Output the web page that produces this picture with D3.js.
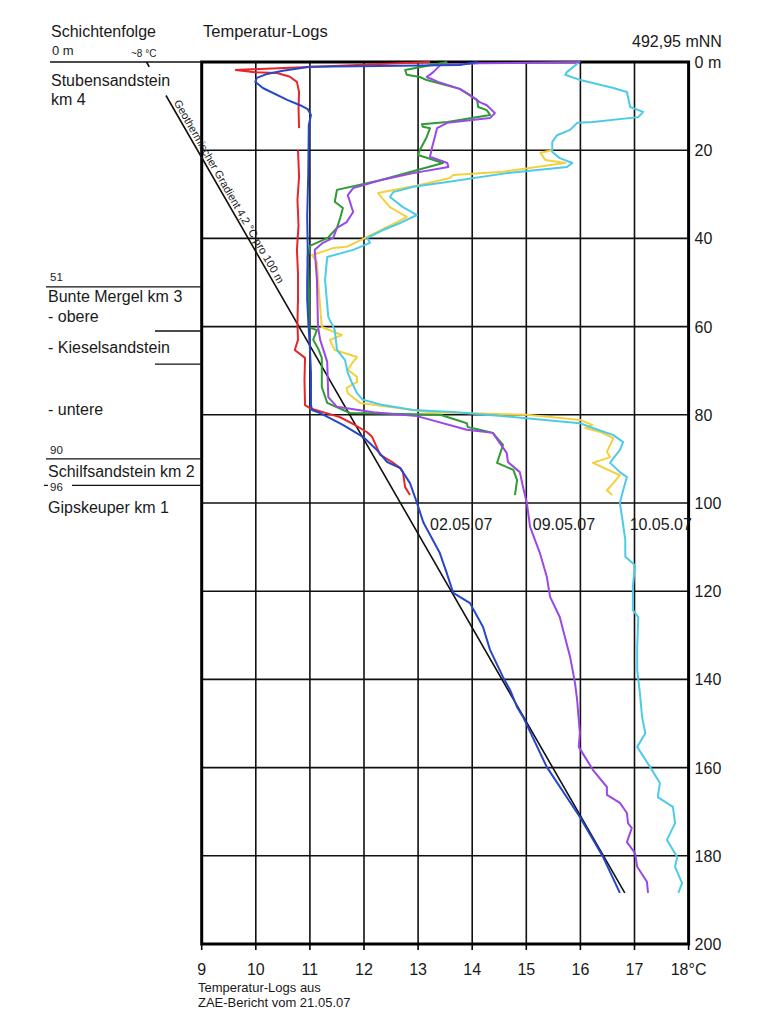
<!DOCTYPE html>
<html>
<head>
<meta charset="utf-8">
<script src="https://cdn.jsdelivr.net/npm/d3@7"></script>
<style>
	body { margin: 0; background: #fff; }
	svg text { font-family: "Liberation Sans", Arial, sans-serif; fill: #1a1a1a; }
</style>
</head>
<body>
<div id="chart"></div>
<script>
// temperature logs, each point is [temperature °C, depth m]
var redLog = [
	[13.22, 0], [9.63, 1.8], [9.98, 2.3], [10.39, 2.5], [10.62, 3.3], [10.76, 4.5], [10.80, 6.8], [10.79, 10.5], [10.80, 15.0], null,
	[10.78, 20.0], [10.80, 26], [10.77, 31.3], [10.79, 37], [10.76, 42.6], [10.78, 48], [10.78, 54], [10.77, 59], [10.78, 63],
	[10.72, 65.3], [10.91, 67.1], [10.90, 72.1], [10.91, 77.8], [11.0, 78.5], [11.24, 79.4], [11.55, 80.5], [11.83, 82.3],
	[12.05, 83.9], [12.15, 85.0], [12.30, 89.1], [12.52, 90.7], [12.67, 92.1], [12.72, 93.0], [12.76, 96.4], [12.85, 98.2]
];
var blueLog = [
	[14.1, 0], [13.77, 0.7], [12.30, 0.9], [11.0, 1.1], [10.50, 2.0], [10.21, 2.7], [10.02, 3.6], [9.99, 4.5], [10.13, 5.9],
	[10.58, 8.6], [10.82, 9.8], [10.96, 10.7], [11.02, 12.0], [10.98, 14.3], [10.97, 25], [10.95, 35], [10.96, 42.6],
	[10.95, 50], [10.95, 54], [10.98, 60.8], [11.0, 65], [11.02, 70.5], [11.02, 77.8], [11.04, 78.9], [11.19, 79.6],
	[11.61, 82.3], [11.98, 85.0], [12.24, 88.0], [12.43, 90.7], [12.67, 92.1], [12.85, 95.5], [12.98, 100], [13.10, 104.5],
	[13.40, 111.3], [13.53, 115.9], [13.65, 120.4], [13.96, 122.7], [14.20, 128.1], [14.33, 133.3], [14.57, 139.5],
	[14.70, 142.4], [14.83, 146.3], [14.94, 148.5], [15.38, 159.9], [15.99, 171.2], [16.42, 180.3], [16.73, 188.4]
];
var greenLog = [
	[13.54, 0], [12.76, 1.8], [12.79, 2.9], [13.03, 3.4], [13.16, 4.1], [13.77, 6.1], [14.09, 8.6], [14.11, 10.2], [14.27, 10.9],
	[14.33, 12.0], [13.54, 13.6], [13.07, 14.1], [13.09, 14.7], [13.22, 15.0], [13.16, 17.0], [13.03, 20.0], [13.0, 21.1],
	[13.46, 22.9], [12.30, 26.8], [11.50, 29.0], [11.46, 31.7], [11.61, 33.1], [11.56, 35.4], [11.50, 37.6], [11.33, 39.9],
	[11.0, 41.7], [10.96, 44.2], [10.98, 51.7], [10.98, 60.1], [11.13, 60.8], [11.06, 63.0], [11.15, 64.9], [11.22, 67.1],
	[11.22, 73.7], [11.32, 77.3], [11.74, 79.6], [13.41, 80.0], [13.90, 81.9], [13.92, 82.8], [14.14, 83.4], [14.38, 84.1],
	[14.57, 86.8], [14.46, 90.9], [14.76, 92.5], [14.83, 94.8], [14.79, 98.2]
];
var purpleLog = [
	[16.0, 0], [14.14, 0.3], [13.41, 0.7], [13.28, 2.3], [13.16, 3.4], [13.37, 4.5], [13.77, 6.1], [13.96, 7.5], [14.14, 9.1],
	[14.27, 9.8], [14.42, 11.6], [14.33, 12.7], [13.54, 13.8], [13.35, 15.0], [13.31, 17.0], [13.26, 19.3], [13.22, 21.5],
	[13.54, 22.9], [13.56, 23.8], [12.91, 25.2], [12.30, 26.8], [11.80, 28.6], [11.70, 30.2], [11.80, 34.0], [11.68, 36.3],
	[11.50, 37.6], [11.43, 39.9], [11.24, 41.0], [11.09, 42.6], [11.13, 49.4], [11.15, 60.1], [11.19, 63.0], [11.32, 68.0],
	[11.34, 76.0], [11.50, 78.2], [12.17, 79.4], [12.98, 80.3], [13.90, 83.4], [14.38, 84.1], [14.64, 88.7], [14.66, 90.7],
	[14.88, 93.0], [14.94, 96.4], [15.01, 100], [15.07, 105.4], [15.25, 111.3], [15.38, 116.8], [15.44, 121.3], [15.62, 125.9],
	[15.68, 128.8], [15.81, 134.9], [15.90, 140.8], [15.94, 144.7], [15.99, 152.2], [15.97, 155.3], [16.12, 158.3],
	[16.23, 160.5], [16.49, 164.4], [16.49, 166.2], [16.73, 168.0], [16.86, 170.3], [16.88, 172.6], [16.95, 173.7],
	[16.86, 176.9], [17.01, 179.4], [17.05, 182.5], [17.23, 185.9], [17.25, 188.4]
];
var yellowLog = [
	[15.48, 20.0], [15.26, 20.6], [15.35, 22.2], [15.72, 22.9], [14.57, 24.9], [13.65, 25.6], [13.59, 26.3], [13.03, 27.9],
	[12.26, 29.7], [12.33, 30.8], [12.48, 32.9], [12.79, 35.1], [12.61, 36.3], [12.05, 39.7], [11.68, 41.9], [11.43, 42.2],
	[11.04, 43.8], [11.13, 45.4], [11.15, 49.4], [11.22, 60.1], [11.59, 61.9], [11.37, 63.0], [11.46, 65.3], [11.87, 66.9],
	[11.78, 68.3], [11.70, 69.8], [11.87, 71.4], [11.87, 72.6], [11.68, 73.9], [11.70, 75.1], [11.93, 77.3], [13.22, 79.4],
	[15.01, 80.0], [16.0, 81.2], [16.22, 82.3], [16.09, 83.0], [16.37, 83.9], [16.61, 85.3], [16.49, 88.4], [16.55, 89.6],
	[16.23, 90.9], [16.73, 93.7], [16.61, 95.5], [16.49, 97.1], [16.59, 98.2]
];
var cyanLog = [
	[15.98, 0], [15.75, 2.3], [15.72, 2.9], [16.0, 4.1], [16.61, 5.9], [16.86, 6.8], [16.92, 10.2], [17.16, 11.3], [17.07, 12.5],
	[16.23, 13.6], [15.94, 13.8], [15.81, 15.4], [15.57, 16.6], [15.48, 18.1], [15.48, 20.4], [15.62, 21.8], [15.85, 22.9],
	[15.75, 23.8], [14.64, 25.2], [13.54, 27.2], [12.91, 28.3], [12.54, 29.5], [12.48, 30.6], [12.72, 32.9], [12.98, 34.7],
	[12.67, 36.5], [12.35, 38.1], [12.06, 39.9], [12.11, 41.0], [11.80, 42.6], [11.32, 44.2], [11.28, 49.4], [11.34, 57.8],
	[11.46, 60.8], [11.50, 65.3], [11.65, 67.6], [11.70, 70.5], [11.78, 72.8], [11.87, 75.1], [11.98, 76.6], [12.35, 77.8],
	[12.91, 78.9], [13.72, 79.4], [14.75, 80.5], [15.99, 81.9], [16.23, 83.0], [16.61, 84.6], [16.79, 86.2], [16.73, 88.0],
	[16.61, 89.8], [16.55, 90.9], [16.73, 93.0], [16.86, 94.1], [16.79, 97.1], [16.73, 100], [16.77, 103.2], [16.83, 108.4],
	[16.83, 112.2], [17.01, 114.1], [16.97, 119.0], [16.97, 124.3], [17.07, 125.9], [17.05, 132.7], [17.05, 137.9],
	[17.10, 143.1], [17.14, 148.5], [17.20, 152.2], [17.05, 155.3], [17.29, 159.9], [17.47, 163.5], [17.43, 166.7],
	[17.71, 168.9], [17.75, 172.6], [17.60, 176.4], [17.79, 180.3], [17.75, 182.5], [17.88, 186.2], [17.81, 188.4]
];

// geothermal gradient, broken where the layer name sits
var gradientLine = [[7.98, 0], [8.03, 1.1], null, [8.34, 7.6], [16.82, 188.4]];
var gradientText = "Geothermischer Gradient 4,2 °C pro 100 m";

var tempTicks = [9, 10, 11, 12, 13, 14, 15, 16, 17, 18];
var tempTickLabels = ["9", "10", "11", "12", "13", "14", "15", "16", "17", "18°C"];
var depthTicks = [0, 20, 40, 60, 80, 100, 120, 140, 160, 180, 200];
var depthTickLabels = ["0 m", "20", "40", "60", "80", "100", "120", "140", "160", "180", "200"];
var logDates = ["02.05.07", "09.05.07", "10.05.07"];

// layer sequence (Schichtenfolge)
var strataTops = [0, 51, 90, 96];
var strataTopLabels = ["0 m", "51", "90", "96"];
var subDivisions = [61, 68.5];
var strataNames = ["Stubensandstein", "km 4", "Bunte Mergel km 3", "- obere", "- Kieselsandstein", "- untere", "Schilfsandstein km 2", "Gipskeuper km 1"];

(function() {

	var width = 761;
	var height = 1024;

	var svg = d3.select("#chart").append("svg")
		.attr("width", width)
		.attr("height", height);

	var x = d3.scaleLinear().domain([9, 18]).range([201.7, 688.6]);
	var y = d3.scaleLinear().domain([0, 200]).range([62, 944]);

	// grid
	var grid = svg.append("g").attr("class", "grid");
	grid.selectAll("line.vgrid")
		.data(tempTicks.slice(1, -1)).enter()
		.append("line")
			.attr("class", "vgrid")
			.attr("x1", function(d) { return x(d); })
			.attr("x2", function(d) { return x(d); })
			.attr("y1", y(0))
			.attr("y2", y(200))
			.attr("stroke", "#111")
			.attr("stroke-width", 1.6);
	grid.selectAll("line.hgrid")
		.data(depthTicks.slice(1, -1)).enter()
		.append("line")
			.attr("class", "hgrid")
			.attr("x1", x(9))
			.attr("x2", x(18))
			.attr("y1", function(d) { return y(d); })
			.attr("y2", function(d) { return y(d); })
			.attr("stroke", "#111")
			.attr("stroke-width", 1.6);

	// frame
	svg.append("rect")
		.attr("x", x(9))
		.attr("y", y(0))
		.attr("width", x(18) - x(9))
		.attr("height", y(200) - y(0))
		.attr("fill", "none")
		.attr("stroke", "#000")
		.attr("stroke-width", 3);

	// bottom ticks and labels
	svg.selectAll("line.xtick")
		.data(tempTicks).enter()
		.append("line")
			.attr("class", "xtick")
			.attr("x1", function(d) { return x(d); })
			.attr("x2", function(d) { return x(d); })
			.attr("y1", y(200))
			.attr("y2", y(200) + 6)
			.attr("stroke", "#000")
			.attr("stroke-width", 1.6);
	svg.selectAll("text.xlabel")
		.data(tempTicks).enter()
		.append("text")
			.attr("class", "xlabel")
			.attr("x", function(d) { return x(d); })
			.attr("y", y(200) + 31)
			.attr("text-anchor", "middle")
			.style("font-size", "16px")
			.text(function(d, i) { return tempTickLabels[i]; });

	// right depth labels
	svg.selectAll("text.ylabel")
		.data(depthTicks).enter()
		.append("text")
			.attr("class", "ylabel")
			.attr("x", x(18) + 6)
			.attr("y", function(d) { return y(d) + 6; })
			.style("font-size", "16px")
			.text(function(d, i) { return depthTickLabels[i]; });

	svg.append("text")
		.attr("x", 632)
		.attr("y", 47)
		.style("font-size", "16px")
		.text("492,95 mNN");

	// titles
	svg.append("text").attr("x", 51).attr("y", 37).style("font-size", "16px").text("Schichtenfolge");
	svg.append("text").attr("x", 203).attr("y", 37).style("font-size", "16.5px").text("Temperatur-Logs");

	// source note
	svg.append("text").attr("x", 198).attr("y", 992).style("font-size", "13px").text("Temperatur-Logs aus");
	svg.append("text").attr("x", 198).attr("y", 1007).style("font-size", "13px").text("ZAE-Bericht vom 21.05.07");

	// layer boundaries
	var strataLineStart = [50, 46, 46, 72];
	svg.selectAll("line.stratum")
		.data(strataTops).enter()
		.append("line")
			.attr("class", "stratum")
			.attr("x1", function(d, i) { return strataLineStart[i]; })
			.attr("x2", x(9))
			.attr("y1", function(d) { return y(d); })
			.attr("y2", function(d) { return y(d); })
			.attr("stroke", "#111")
			.attr("stroke-width", 1.4);
	svg.append("line")
		.attr("x1", 44).attr("x2", 48)
		.attr("y1", y(96)).attr("y2", y(96))
		.attr("stroke", "#111")
		.attr("stroke-width", 1.2);
	svg.selectAll("line.substratum")
		.data(subDivisions).enter()
		.append("line")
			.attr("class", "substratum")
			.attr("x1", 155)
			.attr("x2", x(9))
			.attr("y1", function(d) { return y(d); })
			.attr("y2", function(d) { return y(d); })
			.attr("stroke", "#111")
			.attr("stroke-width", 1.4);

	// depth numbers above the boundary, the last one hangs below it
	var topLabelSize = ["13px", "11.5px", "11.5px", "11.5px"];
	var topLabelShift = [-7, -6, -5, 6];
	svg.selectAll("text.stratumTop")
		.data(strataTops).enter()
		.append("text")
			.attr("class", "stratumTop")
			.attr("x", function(d, i) { return i == 0 ? 52 : 50; })
			.attr("y", function(d, i) { return y(d) + topLabelShift[i]; })
			.style("font-size", function(d, i) { return topLabelSize[i]; })
			.text(function(d, i) { return strataTopLabels[i]; });

	var nameBaselines = [86, 105, 302, 322, 353, 415, 477, 513];
	svg.selectAll("text.stratumName")
		.data(strataNames).enter()
		.append("text")
			.attr("class", "stratumName")
			.attr("x", function(d, i) { return i < 2 ? 51 : 48; })
			.attr("y", function(d, i) { return nameBaselines[i]; })
			.style("font-size", "16px")
			.text(function(d) { return d; });

	// geothermal gradient
	var line = d3.line()
		.defined(function(d) { return d !== null; })
		.x(function(d) { return x(d[0]); })
		.y(function(d) { return y(d[1]); });

	svg.append("path")
		.datum(gradientLine)
		.attr("d", line)
		.attr("fill", "none")
		.attr("stroke", "#111")
		.attr("stroke-width", 1.6);

	svg.append("text")
		.attr("x", 131)
		.attr("y", 57)
		.style("font-size", "10px")
		.text("~8 °C");

	var g0 = gradientLine[3], g1 = gradientLine[4];
	var angle = Math.atan2(y(g1[1]) - y(g0[1]), x(g1[0]) - x(g0[0])) * 180 / Math.PI;
	var textDepth = 9.5;
	var textTemp = g0[0] + (g1[0] - g0[0]) * (textDepth - g0[1]) / (g1[1] - g0[1]);
	svg.append("text")
		.attr("transform", "translate(" + x(textTemp) + "," + y(textDepth) + ") rotate(" + angle + ")")
		.attr("dy", -3)
		.style("font-size", "11px")
		.text(gradientText);

	// the logs
	var logs = [
		{data: yellowLog, color: "#f4d03f"},
		{data: cyanLog, color: "#4ccbe9"},
		{data: greenLog, color: "#2f9b33"},
		{data: purpleLog, color: "#9a48e8"},
		{data: redLog, color: "#e8262a"},
		{data: blueLog, color: "#2648c8"}
	];
	svg.selectAll("path.log")
		.data(logs).enter()
		.append("path")
			.attr("class", "log")
			.attr("d", function(d) { return line(d.data); })
			.attr("fill", "none")
			.attr("stroke", function(d) { return d.color; })
			.attr("stroke-width", 2)
			.attr("stroke-linejoin", "round");

	// date labels next to the curve ends
	var dateTemps = [13.22, 15.12, 16.91];
	svg.selectAll("text.date")
		.data(logDates).enter()
		.append("text")
			.attr("class", "date")
			.attr("x", function(d, i) { return x(dateTemps[i]); })
			.attr("y", 530)
			.style("font-size", "16px")
			.text(function(d) { return d; });

})();
</script>
</body>
</html>
